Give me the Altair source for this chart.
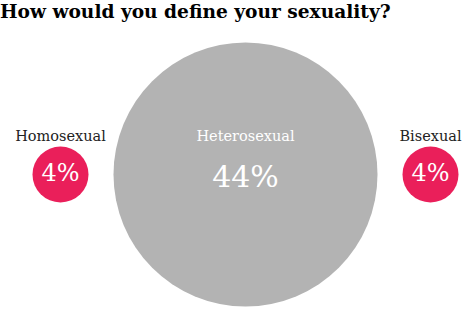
import altair as alt
import pandas as pd

title_text = "How would you define your sexuality?"
categories = ["Homosexual", "Heterosexual", "Bisexual"]
percents = [4, 44, 4]
pct_labels = ["4%", "44%", "4%"]

PINK = "#ea1f5a"
GREY = "#b3b3b3"
SERIF = "DejaVu Serif"

df = pd.DataFrame({"category": categories, "pct": percents, "label": pct_labels})
base = alt.Chart(df)

x_enc = alt.X(
    "category:N",
    sort=categories,
    scale=alt.Scale(type="point", domain=categories, range=[60.5, 430.5], padding=0),
    axis=None,
)

circles = base.mark_circle(opacity=1, strokeWidth=0).encode(
    x=x_enc,
    y=alt.value(174.5),
    size=alt.Size(
        "pct:Q",
        scale=alt.Scale(domain=[4, 44], range=[3136, 69696], zero=False),
        legend=None,
    ),
    color=alt.Color(
        "category:N",
        scale=alt.Scale(domain=categories, range=[PINK, GREY, PINK]),
        legend=None,
    ),
)

names = base.mark_text(font=SERIF, fontSize=14.5, baseline="alphabetic", align="center").encode(
    x=x_enc,
    y=alt.value(141),
    text="category:N",
    color=alt.condition(alt.datum.category == "Heterosexual", alt.value("#ffffff"), alt.value("#222222")),
)

small_pct = base.transform_filter(alt.datum.pct < 10).mark_text(
    font=SERIF, fontSize=24, baseline="alphabetic", align="center", color="#ffffff"
).encode(x=x_enc, y=alt.value(181), text="label:N")

big_pct = base.transform_filter(alt.datum.pct >= 10).mark_text(
    font=SERIF, fontSize=30, baseline="alphabetic", align="center", color="#ffffff"
).encode(x=x_enc, y=alt.value(186.5), text="label:N")

title = alt.Chart(pd.DataFrame({"t": [title_text]})).mark_text(
    font=SERIF, fontSize=18.6, fontWeight="bold", baseline="alphabetic", align="left", color="#000000"
).encode(x=alt.value(0), y=alt.value(18), text="t:N")

chart = (
    alt.layer(circles, names, small_pct, big_pct, title)
    .properties(width=470, height=313, autosize=alt.AutoSizeParams(type="none"), padding=0, background="#ffffff")
    .configure_view(stroke=None)
)

chart.save("out.html", embed_options={"renderer": "svg", "actions": False})
